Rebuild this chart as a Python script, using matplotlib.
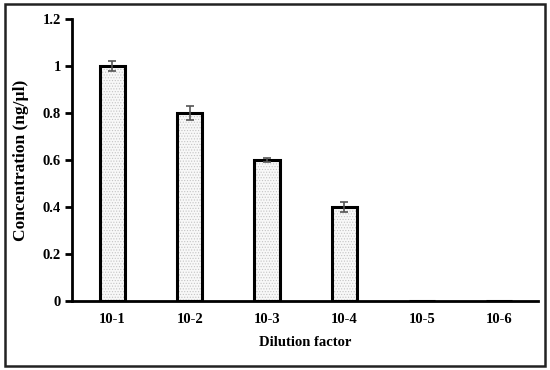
import matplotlib
matplotlib.use("Agg")
import matplotlib.pyplot as plt
from matplotlib.patches import Rectangle

categories = ["10-1", "10-2", "10-3", "10-4", "10-5", "10-6"]
values = [1.0, 0.8, 0.6, 0.4, 0.0, 0.0]
errors = [0.02, 0.03, 0.01, 0.02, 0.0, 0.0]

plt.rcParams['font.family'] = ['Liberation Serif', 'DejaVu Serif']
plt.rcParams['hatch.linewidth'] = 0.5

fig = plt.figure(figsize=(5.5, 3.7), dpi=100)
fig.patches.append(Rectangle((0.009, 0.012), 0.982, 0.976, transform=fig.transFigure,
                             fill=False, edgecolor='#222222', linewidth=1.8))
ax = fig.add_axes([0.131, 0.1865, 0.847, 0.762])

x = list(range(len(categories)))
# dotted fill (hatch colour follows edgecolor, so draw fill and outline separately)
ax.bar(x, values, width=0.33, color='#f8f8f8', edgecolor='#c4c4c4', linewidth=0,
       hatch='......', zorder=2)
ax.bar(x, values, width=0.33, fill=False, edgecolor='black', linewidth=2.2, zorder=2.5)
ax.errorbar(x[:4], values[:4], yerr=errors[:4], fmt='none', ecolor='#555555',
            elinewidth=1.2, capsize=3, capthick=1.2, zorder=3)

ax.set_xlim(-0.52, 5.5)
ax.set_ylim(0, 1.2)
ax.set_yticks([0, 0.2, 0.4, 0.6, 0.8, 1.0, 1.2])
ax.set_yticklabels(["0", "0.2", "0.4", "0.6", "0.8", "1", "1.2"])
ax.set_xticks(x)
ax.set_xticklabels(categories)
for s in ['top', 'right']:
    ax.spines[s].set_visible(False)
for s in ['left', 'bottom']:
    ax.spines[s].set_linewidth(2)
ax.tick_params(axis='y', direction='out', length=5, width=2, labelsize=10.5, pad=3)
ax.tick_params(axis='x', length=0, labelsize=10.5, pad=9)
for lab in ax.get_xticklabels() + ax.get_yticklabels():
    lab.set_fontweight('bold')
ax.set_xlabel("Dilution factor", fontsize=10.5, fontweight='bold', labelpad=7)
ax.set_ylabel("Concentration (ng/µl)", fontsize=12.5, fontweight='bold', labelpad=10)

fig.savefig("out.png", dpi=100)
